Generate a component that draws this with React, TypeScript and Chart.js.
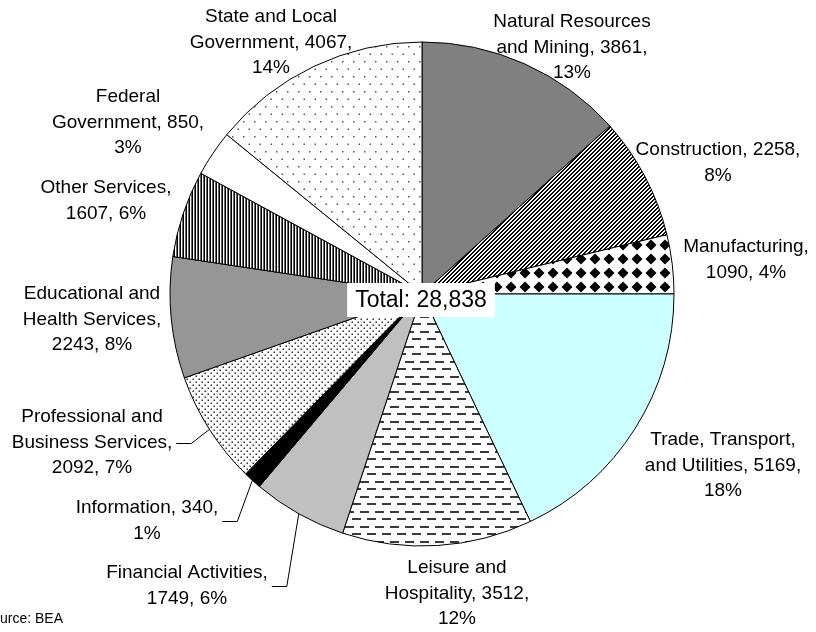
import React, { useEffect, useRef } from "react";
import { Chart, registerables } from "chart.js";

Chart.register(...registerables);

// ---------- data ----------
const CATEGORIES = [
  "Natural Resources and Mining",
  "Construction",
  "Manufacturing",
  "Trade, Transport, and Utilities",
  "Leisure and Hospitality",
  "Financial Activities",
  "Information",
  "Professional and Business Services",
  "Educational and Health Services",
  "Other Services",
  "Federal Government",
  "State and Local Government",
];
const VALUES = [3861, 2258, 1090, 5169, 3512, 1749, 340, 2092, 2243, 1607, 850, 4067];
const LABEL_LINES = [
  ["Natural Resources", "and Mining, {v},", "{p}%"],
  ["Construction, {v},", "{p}%"],
  ["Manufacturing,", "{v}, {p}%"],
  ["Trade, Transport,", "and Utilities, {v},", "{p}%"],
  ["Leisure and", "Hospitality, {v},", "{p}%"],
  ["Financial Activities,", "{v}, {p}%"],
  ["Information, {v},", "{p}%"],
  ["Professional and", "Business Services,", "{v}, {p}%"],
  ["Educational and", "Health Services,", "{v}, {p}%"],
  ["Other Services,", "{v}, {p}%"],
  ["Federal", "Government, {v},", "{p}%"],
  ["State and Local", "Government, {v},", "{p}%"],
];
const TOTAL_PREFIX = "Total: ";
const SOURCE = "Source: BEA";

// ---------- layout (text placement only) ----------
const LABEL_POS: number[][] = [
  [572, 22], [718, 150], [746, 247], [723, 440], [457, 568], [187, 573],
  [147, 508], [92, 417], [92, 294], [106, 188], [128, 97], [271, 17],
];
const HAS_LEADER = [false, false, false, false, false, true, true, true, false, false, false, false];
const LINE_H = 25.5;
const FONT = "'Liberation Sans', Arial, sans-serif";

type FillKind =
  | { solid: string }
  | { pattern: string };
const FILLS: FillKind[] = [
  { solid: "#808080" },
  { pattern: "diag" },
  { pattern: "diamond" },
  { solid: "#CCFFFF" },
  { pattern: "dash" },
  { solid: "#C0C0C0" },
  { solid: "#000000" },
  { pattern: "densedots" },
  { solid: "#969696" },
  { pattern: "vstripes" },
  { solid: "#FFFFFF" },
  { pattern: "sparsedots" },
];

function makeTile(w: number, h: number, draw: (c: CanvasRenderingContext2D) => void) {
  const cv = document.createElement("canvas");
  cv.width = w;
  cv.height = h;
  const c = cv.getContext("2d")!;
  c.fillStyle = "#fff";
  c.fillRect(0, 0, w, h);
  draw(c);
  return cv;
}

function makePattern(ctx: CanvasRenderingContext2D, kind: string): CanvasPattern | string {
  let tile: HTMLCanvasElement;
  if (kind === "diag") {
    tile = makeTile(4, 4, (c) => {
      c.fillStyle = "#000";
      for (let y = 0; y < 4; y++)
        for (let x = 0; x < 4; x++) if ((x + y) % 4 < 2) c.fillRect(x, y, 1, 1);
    });
  } else if (kind === "diamond") {
    tile = makeTile(14, 14, (c) => {
      c.fillStyle = "#000";
      c.beginPath();
      c.moveTo(7, 1.5);
      c.lineTo(12.5, 7);
      c.lineTo(7, 12.5);
      c.lineTo(1.5, 7);
      c.closePath();
      c.fill();
    });
  } else if (kind === "dash") {
    tile = makeTile(15, 15, (c) => {
      c.fillStyle = "#3a3a3a";
      c.fillRect(0, 1, 9, 2);
      c.fillRect(7, 8, 8, 2);
      c.fillRect(0, 8, 1, 2);
    });
  } else if (kind === "densedots") {
    tile = makeTile(6, 6, (c) => {
      c.fillStyle = "#333";
      c.fillRect(0.5, 0.5, 1.5, 1.5);
      c.fillRect(3.5, 3.5, 1.5, 1.5);
    });
  } else if (kind === "vstripes") {
    tile = makeTile(3, 2, (c) => {
      c.fillStyle = "#000";
      c.fillRect(0, 0, 1, 2);
      c.fillStyle = "#666";
      c.fillRect(2, 0, 1, 2);
    });
  } else {
    tile = makeTile(11, 15, (c) => {
      c.fillStyle = "#555";
      c.fillRect(1, 1, 1.5, 1.5);
      c.fillRect(6.5, 8.5, 1.5, 1.5);
    });
  }
  return ctx.createPattern(tile, "repeat") || "#fff";
}

const fmt = (n: number) => n.toLocaleString("en-US");

export default function App() {
  const ref = useRef<HTMLCanvasElement | null>(null);

  useEffect(() => {
    const canvas = ref.current!;
    const ctx = canvas.getContext("2d")!;
    const total = VALUES.reduce((a, b) => a + b, 0);
    const bg = FILLS.map((f) => ("solid" in f ? f.solid : makePattern(ctx, f.pattern)));

    const labelPlugin = {
      id: "labels",
      afterDatasetsDraw(chart: any) {
        const c: CanvasRenderingContext2D = chart.ctx;
        const meta = chart.getDatasetMeta(0);
        const arcs = meta.data;
        c.save();
        c.fillStyle = "#000";
        c.strokeStyle = "#000";
        c.lineWidth = 1;
        c.textAlign = "center";
        c.textBaseline = "middle";
        c.font = `19px ${FONT}`;
        VALUES.forEach((v, i) => {
          const pct = Math.round((v / total) * 100);
          const lines = LABEL_LINES[i].map((s) => s.replace("{v}", String(v)).replace("{p}", String(pct)));
          const [cx, y0] = LABEL_POS[i];
          lines.forEach((ln, k) => c.fillText(ln, cx, y0 + k * LINE_H));
          if (HAS_LEADER[i]) {
            const a = arcs[i];
            const mid = (a.startAngle + a.endAngle) / 2;
            const px = a.x + Math.cos(mid) * a.outerRadius;
            const py = a.y + Math.sin(mid) * a.outerRadius;
            const maxW = Math.max(...lines.map((l) => c.measureText(l).width));
            const sx = cx + maxW / 2 + 4;
            const ly = Math.round(y0 + ((lines.length - 1) * LINE_H) / 2) + 0.5;
            c.beginPath();
            c.moveTo(sx, ly);
            c.lineTo(sx + 15, ly);
            c.lineTo(px, py);
            c.stroke();
          }
        });
        // total box
        const a0 = arcs[0];
        const tText = TOTAL_PREFIX + fmt(total);
        c.font = `23px ${FONT}`;
        const tw = c.measureText(tText).width;
        const bx = a0.x - 1;
        const by = a0.y + 6;
        c.fillStyle = "#fff";
        c.fillRect(bx - tw / 2 - 8, by - 17, tw + 16, 34);
        c.fillStyle = "#000";
        c.fillText(tText, bx, by + 1);
        // source
        c.font = `14px ${FONT}`;
        c.textAlign = "left";
        const cut = c.measureText(SOURCE.slice(0, 2)).width;
        c.fillText(SOURCE, -cut, 619);
        c.restore();
      },
    };

    const chart = new Chart(canvas, {
      type: "pie",
      data: {
        labels: CATEGORIES,
        datasets: [
          {
            data: VALUES,
            backgroundColor: bg as any,
            borderColor: "#000",
            borderWidth: 1,
            hoverOffset: 0,
          },
        ],
      },
      options: {
        responsive: false,
        animation: false,
        radius: 252,
        layout: { padding: { left: 28, right: 0, top: 0, bottom: 44 } },
        plugins: { legend: { display: false }, tooltip: { enabled: false } },
        events: [],
      } as any,
      plugins: [labelPlugin],
    });
    return () => chart.destroy();
  }, []);

  return (
    <div style={{ position: "absolute", left: 0, top: 0, width: 816, height: 632, background: "#fff" }}>
      <canvas ref={ref} width={816} height={632} style={{ display: "block" }} />
    </div>
  );
}
